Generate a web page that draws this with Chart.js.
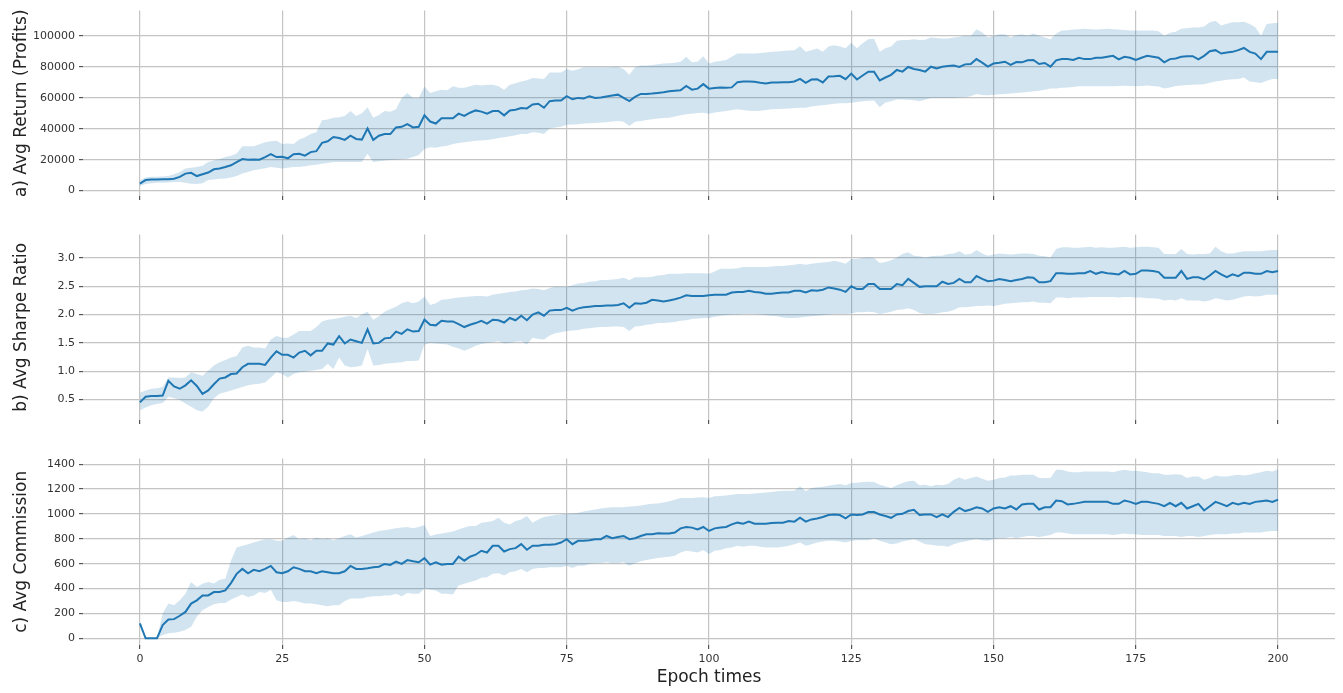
<!DOCTYPE html>
<html>
<head>
<meta charset="utf-8">
<script src="https://cdn.jsdelivr.net/npm/chart.js@4"></script>
<style>
  body { margin: 0; background: #fff; }
  canvas { position: absolute; left: 0; }
</style>
</head>
<body>
<canvas id="painel-a" width="1343" height="224" style="top:0px"></canvas>
<canvas id="painel-b" width="1343" height="224" style="top:224px"></canvas>
<canvas id="painel-c" width="1343" height="245" style="top:448px"></canvas>
<script>
// Eixo x: épocas 0..200
const epocas = Array.from({ length: 201 }, (_, i) => i);
const ticksX = [0, 25, 50, 75, 100, 125, 150, 175, 200];

// a) Avg Return (Profits): média, limite superior e inferior da faixa
const retornoMedia = [
  4500, 6800, 7200, 7200, 7300, 7300, 7700, 8900, 11000, 11500,
  9400, 10600, 11700, 13800, 14300, 15300, 16400, 18500, 20400, 20000,
  20200, 20000, 21700, 23600, 21700, 21900, 20900, 23600, 23800, 22600,
  24900, 25500, 30900, 31900, 34700, 34000, 32800, 35500, 33400, 33000,
  40200, 32800, 35500, 36600, 36600, 40900, 41300, 43000, 40900, 41300,
  48700, 44700, 43400, 46800, 46800, 46800, 49800, 48300, 50400, 51900,
  51100, 49800, 51500, 51500, 48700, 51900, 52300, 53400, 53200, 55700,
  56200, 53600, 57900, 58300, 58300, 61100, 59100, 60000, 59600, 61100,
  60000, 60200, 60900, 61500, 62100, 60000, 57900, 60600, 62600, 62600,
  62800, 63200, 63600, 64300, 64700, 64900, 67700, 65300, 66000, 68900,
  66000, 66400, 66800, 66600, 66800, 70200, 70600, 70600, 70400, 69800,
  69400, 70000, 70000, 70200, 70200, 70600, 72300, 69800, 71900, 72100,
  70000, 73800, 74000, 74300, 72100, 75700, 71900, 74500, 77000, 77000,
  71300, 73200, 74900, 78100, 77000, 80000, 78700, 78100, 77000, 80200,
  79100, 80200, 80600, 80900, 80000, 81700, 81900, 85100, 82800, 80200,
  82300, 82800, 83400, 81300, 83200, 83000, 84300, 84500, 81900, 82600,
  80200, 84300, 85100, 85100, 84500, 86000, 85100, 85100, 86000, 86000,
  86600, 87200, 84900, 86600, 86000, 84500, 86000, 87200, 86600, 86000,
  83000, 85100, 85500, 86600, 87000, 87000, 84900, 87200, 90200, 90900,
  88700, 89400, 89800, 90900, 92300, 89800, 88700, 85100, 89800, 89800, 89800
];
const retornoAlto = [
  6500, 8500, 9000, 9000, 9200, 9500, 10600, 12000, 14300, 14800,
  15300, 16000, 18500, 19500, 20500, 21700, 22500, 24000, 28700, 28700,
  28700, 30000, 31300, 32000, 32300, 30200, 30500, 30200, 33000, 34500,
  36600, 37700, 45500, 46000, 47200, 47500, 48300, 51500, 48300, 50000,
  54000, 47200, 49000, 51500, 51000, 52600, 60000, 63200, 60000, 60000,
  67400, 63200, 64300, 65300, 65000, 67500, 66500, 66500, 67500, 68500,
  68000, 68500, 68500, 67500, 65300, 68500, 69500, 70600, 71500, 72800,
  72500, 72300, 76400, 76400, 76400, 78700, 77600, 78500, 79800, 79800,
  79800, 79800, 79800, 80000, 80200, 78700, 74900, 79800, 80900, 80900,
  81300, 81800, 82300, 82500, 82800, 83400, 86600, 83000, 83400, 87000,
  82300, 83400, 83800, 84500, 86600, 88700, 88700, 88700, 88700, 89100,
  89400, 89800, 90000, 90400, 90600, 90900, 93400, 89800, 90900, 92000,
  89800, 93200, 94000, 93200, 92100, 95700, 92100, 95300, 97900, 98300,
  89800, 92100, 93200, 97000, 97500, 97500, 97900, 97500, 97700, 99100,
  98800, 98500, 98500, 99100, 99500, 100200, 100000, 104500, 102500, 99100,
  100200, 101200, 101200, 99100, 100600, 101200, 100200, 101700, 100200, 99100,
  97900, 101700, 103600, 103800, 104200, 104400, 104700, 104400, 104200, 104400,
  104700, 104400, 104200, 104000, 103600, 103600, 103600, 103600, 103600, 103200,
  100200, 102100, 102800, 104700, 105100, 105500, 105500, 106200, 108900, 110000,
  106800, 108000, 108900, 108900, 109300, 107800, 105700, 100200, 107800, 108300, 108700
];
const retornoBaixo = [
  3000, 4200, 4700, 5100, 5100, 5200, 5500, 5500, 5000, 4500,
  4300, 4800, 6800, 7200, 7600, 7900, 8500, 9500, 11000, 12000,
  13200, 13800, 14500, 15300, 14800, 14300, 14800, 15300, 15300, 15800,
  16400, 16800, 17400, 17800, 18500, 18500, 18500, 18500, 18500, 18500,
  23800, 18500, 19000, 19500, 19800, 20000, 20300, 20600, 21700, 23000,
  27000, 28100, 27800, 28500, 29100, 30200, 30800, 31300, 31800, 32300,
  32500, 32800, 33300, 34000, 34600, 35100, 35800, 36600, 36600, 37700,
  37400, 36600, 40200, 40800, 41300, 42600, 42800, 43000, 43400, 43600,
  43800, 44000, 44300, 44700, 45100, 44500, 41800, 44500, 45100, 45700,
  46200, 46600, 47000, 47200, 48000, 48700, 49400, 49800, 50200, 50400,
  49800, 50600, 51100, 51500, 52100, 52600, 52100, 51700, 51500, 51700,
  52100, 52600, 52800, 53000, 53200, 53400, 53600, 53600, 54400, 54900,
  55300, 55700, 56200, 56600, 56600, 56800, 57400, 57900, 58100, 58300,
  54000, 57000, 57900, 59000, 59000, 58800, 58500, 57900, 58800, 60000,
  60000, 60000, 60000, 60000, 60200, 60400, 61000, 62600, 61800, 61700,
  62100, 62400, 62600, 62800, 63200, 63500, 63800, 64300, 64700, 65300,
  66000, 66000, 66600, 66800, 67100, 67500, 67500, 67500, 67500, 67500,
  67500, 67500, 67700, 67900, 67700, 67500, 67700, 68100, 67700, 67300,
  66000, 66800, 67700, 68100, 68300, 68500, 68700, 68900, 69800, 70600,
  71100, 71700, 72100, 72300, 73200, 70600, 70200, 69600, 71100, 72300, 72300
];
const ticksRetorno = [0, 20000, 40000, 60000, 80000, 100000];

// b) Avg Sharpe Ratio
const sharpeMedia = [
  0.45, 0.55, 0.56, 0.56, 0.57, 0.83, 0.73, 0.69, 0.75, 0.84,
  0.74, 0.60, 0.66, 0.77, 0.87, 0.89, 0.95, 0.96, 1.07, 1.13,
  1.13, 1.13, 1.11, 1.24, 1.35, 1.29, 1.29, 1.24, 1.33, 1.36,
  1.28, 1.36, 1.36, 1.49, 1.47, 1.62, 1.49, 1.56, 1.53, 1.50,
  1.74, 1.49, 1.50, 1.58, 1.59, 1.70, 1.66, 1.74, 1.70, 1.71,
  1.91, 1.82, 1.81, 1.89, 1.88, 1.88, 1.83, 1.78, 1.82, 1.85,
  1.89, 1.84, 1.91, 1.90, 1.86, 1.94, 1.90, 1.98, 1.90, 2.00,
  2.04, 1.98, 2.07, 2.08, 2.08, 2.12, 2.07, 2.11, 2.13, 2.14,
  2.15, 2.15, 2.16, 2.16, 2.17, 2.20, 2.12, 2.20, 2.19, 2.21,
  2.26, 2.25, 2.23, 2.25, 2.27, 2.30, 2.34, 2.33, 2.33, 2.33,
  2.34, 2.35, 2.35, 2.35, 2.39, 2.40, 2.40, 2.42, 2.40, 2.39,
  2.37, 2.37, 2.38, 2.39, 2.39, 2.42, 2.42, 2.39, 2.43, 2.42,
  2.44, 2.48, 2.46, 2.44, 2.40, 2.50, 2.45, 2.45, 2.54, 2.54,
  2.45, 2.45, 2.45, 2.54, 2.52, 2.63, 2.56, 2.49, 2.50, 2.50,
  2.50, 2.58, 2.54, 2.56, 2.63, 2.57, 2.57, 2.68, 2.63, 2.59,
  2.60, 2.63, 2.61, 2.59, 2.61, 2.63, 2.66, 2.65, 2.57, 2.57,
  2.59, 2.73, 2.73, 2.72, 2.72, 2.73, 2.73, 2.77, 2.72, 2.75,
  2.73, 2.72, 2.71, 2.77, 2.71, 2.72, 2.78, 2.78, 2.77, 2.75,
  2.65, 2.65, 2.65, 2.77, 2.63, 2.66, 2.66, 2.62, 2.69, 2.77,
  2.71, 2.66, 2.71, 2.68, 2.74, 2.74, 2.72, 2.72, 2.77, 2.75, 2.77
];
const sharpeAlto = [
  0.62, 0.66, 0.69, 0.70, 0.72, 0.89, 0.89, 0.88, 0.89, 0.98,
  0.95, 0.92, 1.01, 1.10, 1.16, 1.20, 1.24, 1.27, 1.42, 1.45,
  1.42, 1.42, 1.40, 1.56, 1.62, 1.59, 1.59, 1.65, 1.71, 1.71,
  1.71, 1.78, 1.88, 1.91, 1.92, 1.94, 1.96, 1.98, 1.94, 2.00,
  2.05, 1.91, 1.97, 2.05, 2.10, 2.14, 2.20, 2.23, 2.20, 2.23,
  2.32, 2.17, 2.20, 2.26, 2.27, 2.29, 2.30, 2.31, 2.32, 2.33,
  2.33, 2.32, 2.35, 2.37, 2.38, 2.40, 2.41, 2.43, 2.44, 2.46,
  2.45, 2.43, 2.47, 2.49, 2.49, 2.49, 2.52, 2.55, 2.56, 2.58,
  2.59, 2.61, 2.61, 2.62, 2.63, 2.65, 2.61, 2.66, 2.66, 2.66,
  2.67, 2.69, 2.70, 2.72, 2.72, 2.72, 2.73, 2.73, 2.73, 2.73,
  2.72, 2.76, 2.81, 2.81, 2.81, 2.82, 2.84, 2.84, 2.84, 2.84,
  2.84, 2.85, 2.86, 2.86, 2.87, 2.88, 2.90, 2.88, 2.90, 2.91,
  2.92, 2.93, 2.95, 2.93, 2.90, 2.98, 2.98, 3.00, 3.01, 3.00,
  2.91, 2.93, 2.96, 3.01, 3.07, 3.10, 3.04, 3.03, 3.01, 3.03,
  3.04, 3.04, 3.07, 3.08, 3.12, 3.06, 3.07, 3.14, 3.08, 3.04,
  3.06, 3.08, 3.07, 3.06, 3.07, 3.08, 3.08, 3.07, 3.04, 3.03,
  3.01, 3.16, 3.19, 3.19, 3.18, 3.18, 3.19, 3.20, 3.18, 3.19,
  3.18, 3.18, 3.19, 3.20, 3.18, 3.19, 3.20, 3.20, 3.19, 3.18,
  3.07, 3.07, 3.07, 3.16, 3.07, 3.06, 3.07, 3.07, 3.08, 3.20,
  3.12, 3.08, 3.08, 3.10, 3.12, 3.12, 3.12, 3.12, 3.13, 3.14, 3.14
];
const sharpeBaixo = [
  0.31, 0.36, 0.40, 0.42, 0.44, 0.55, 0.52, 0.49, 0.43, 0.37,
  0.31, 0.29, 0.37, 0.52, 0.60, 0.63, 0.66, 0.69, 0.72, 0.75,
  0.77, 0.78, 0.80, 0.89, 0.98, 0.95, 0.89, 0.95, 0.98, 0.99,
  1.01, 1.02, 1.04, 1.13, 1.04, 1.24, 1.10, 1.07, 1.08, 1.10,
  1.39, 1.10, 1.11, 1.13, 1.14, 1.15, 1.16, 1.18, 1.18, 1.19,
  1.47, 1.50, 1.49, 1.48, 1.47, 1.43, 1.40, 1.36, 1.40, 1.45,
  1.48, 1.50, 1.51, 1.53, 1.49, 1.50, 1.52, 1.53, 1.47, 1.59,
  1.57, 1.56, 1.63, 1.67, 1.69, 1.71, 1.72, 1.73, 1.75, 1.76,
  1.77, 1.78, 1.78, 1.79, 1.79, 1.78, 1.71, 1.79, 1.80, 1.82,
  1.83, 1.85, 1.85, 1.86, 1.87, 1.89, 1.90, 1.92, 1.93, 1.94,
  1.94, 1.96, 1.98, 1.99, 2.00, 2.00, 2.01, 2.01, 2.01, 2.00,
  1.99, 1.98, 1.97, 1.95, 1.94, 1.94, 1.95, 1.96, 1.97, 1.98,
  1.99, 2.00, 2.01, 2.01, 2.01, 2.02, 2.04, 2.04, 2.05, 2.04,
  2.01, 2.03, 2.05, 2.08, 2.09, 2.11, 2.08, 2.03, 2.01, 2.01,
  2.02, 2.04, 2.05, 2.08, 2.13, 2.13, 2.14, 2.15, 2.15, 2.16,
  2.15, 2.17, 2.19, 2.20, 2.21, 2.22, 2.22, 2.23, 2.21, 2.21,
  2.20, 2.30, 2.30, 2.29, 2.30, 2.30, 2.30, 2.31, 2.31, 2.31,
  2.31, 2.31, 2.30, 2.31, 2.31, 2.30, 2.30, 2.29, 2.29, 2.28,
  2.25, 2.26, 2.25, 2.29, 2.25, 2.25, 2.25, 2.23, 2.25, 2.29,
  2.27, 2.25, 2.26, 2.29, 2.32, 2.33, 2.32, 2.33, 2.35, 2.35, 2.35
];
const ticksSharpe = [0.5, 1.0, 1.5, 2.0, 2.5, 3.0];

// c) Avg Commission
const comissaoMedia = [
  120, 0, 0, 0, 106, 151, 154, 181, 212, 279,
  305, 345, 345, 372, 372, 385, 444, 518, 558, 523,
  550, 539, 558, 582, 531, 523, 539, 571, 558, 539,
  539, 523, 539, 531, 523, 523, 539, 582, 558, 558,
  563, 571, 576, 598, 590, 616, 598, 629, 619, 611,
  645, 592, 611, 592, 598, 598, 656, 624, 656, 672,
  704, 690, 744, 744, 698, 717, 725, 757, 712, 744,
  744, 752, 752, 757, 770, 797, 757, 784, 784, 789,
  797, 797, 823, 805, 815, 823, 797, 805, 823, 837,
  837, 845, 842, 842, 850, 884, 895, 890, 876, 895,
  863, 884, 890, 895, 916, 930, 922, 938, 922, 922,
  922, 927, 930, 930, 943, 938, 969, 938, 956, 964,
  975, 991, 996, 991, 964, 996, 991, 996, 1015, 1015,
  996, 983, 969, 996, 1001, 1023, 1033, 991, 996, 996,
  975, 996, 975, 1017, 1049, 1023, 1036, 1054, 1044, 1017,
  1044, 1054, 1044, 1062, 1036, 1076, 1081, 1081, 1036, 1054,
  1054, 1108, 1102, 1076, 1081, 1089, 1097, 1097, 1097, 1097,
  1097, 1081, 1081, 1108, 1097, 1081, 1097, 1097, 1089, 1081,
  1062, 1089, 1062, 1089, 1044, 1062, 1081, 1028, 1062, 1097,
  1081, 1062, 1089, 1076, 1089, 1081, 1097, 1102, 1108, 1097, 1115
];
const comissaoAlto = [
  120, 0, 0, 0, 200, 279, 266, 305, 358, 452,
  412, 438, 452, 440, 470, 478, 624, 730, 744, 757,
  770, 784, 797, 797, 784, 784, 810, 831, 797, 805,
  789, 810, 797, 805, 789, 805, 823, 837, 810, 823,
  837, 850, 863, 868, 876, 884, 890, 895, 884, 895,
  911, 823, 835, 842, 850, 858, 875, 890, 903, 903,
  930, 935, 943, 969, 930, 916, 943, 956, 983, 930,
  956, 975, 983, 991, 996, 1001, 1004, 1009, 1020, 1028,
  1036, 1044, 1049, 1054, 1054, 1054, 1060, 1062, 1068, 1076,
  1081, 1084, 1092, 1102, 1115, 1129, 1129, 1129, 1132, 1135,
  1129, 1142, 1145, 1148, 1155, 1161, 1161, 1161, 1164, 1169,
  1172, 1177, 1182, 1187, 1187, 1187, 1222, 1182, 1208, 1214,
  1219, 1227, 1235, 1240, 1230, 1248, 1250, 1256, 1258, 1256,
  1235, 1222, 1208, 1230, 1248, 1262, 1267, 1230, 1235, 1222,
  1235, 1230, 1240, 1275, 1293, 1275, 1288, 1301, 1283, 1267,
  1275, 1288, 1293, 1309, 1309, 1315, 1315, 1315, 1288, 1288,
  1288, 1355, 1355, 1341, 1336, 1336, 1341, 1341, 1341, 1341,
  1341, 1336, 1347, 1355, 1347, 1347, 1341, 1336, 1328, 1328,
  1315, 1315, 1320, 1315, 1288, 1301, 1301, 1275, 1288, 1309,
  1301, 1301, 1309, 1315, 1309, 1315, 1328, 1336, 1347, 1341, 1360
];
const comissaoBaixo = [
  120, 0, 0, 0, 27, 40, 45, 53, 66, 93,
  173, 226, 252, 274, 284, 284, 311, 332, 353, 332,
  345, 372, 364, 390, 305, 292, 292, 300, 292, 279,
  279, 274, 266, 258, 266, 266, 300, 319, 319, 319,
  332, 338, 338, 345, 345, 359, 338, 364, 359, 359,
  398, 390, 385, 359, 359, 353, 425, 438, 452, 465,
  486, 491, 518, 523, 505, 531, 539, 557, 531, 557,
  565, 565, 571, 571, 571, 584, 565, 584, 584, 598,
  603, 603, 611, 603, 603, 611, 584, 603, 619, 629,
  637, 645, 651, 656, 664, 690, 704, 698, 690, 709,
  677, 704, 709, 725, 730, 744, 736, 744, 744, 736,
  730, 730, 730, 736, 744, 757, 770, 744, 757, 770,
  778, 784, 784, 778, 770, 784, 789, 789, 789, 805,
  784, 770, 757, 762, 778, 789, 797, 778, 757, 752,
  744, 744, 736, 757, 770, 778, 789, 797, 789, 784,
  797, 805, 805, 815, 805, 815, 823, 823, 815, 823,
  831, 850, 850, 842, 837, 837, 837, 837, 837, 837,
  837, 831, 837, 842, 837, 837, 831, 831, 831, 831,
  823, 823, 823, 815, 823, 823, 815, 823, 831, 837,
  837, 837, 842, 842, 850, 850, 850, 850, 858, 863, 863
];
const ticksComissao = [0, 200, 400, 600, 800, 1000, 1200, 1400];

const AZUL = '#1f77b4';
const FAIXA = 'rgba(31, 119, 180, 0.2)';
const GRADE = '#c4c4c4';
const FONTE = 'DejaVu Sans';

// Função para gerar um painel (linha média + faixa sombreada)
function gerarPainel(id, media, alto, baixo, cfg) {
    const ctx = document.getElementById(id).getContext('2d');

    new Chart(ctx, {
        type: 'line',
        data: {
            labels: epocas,
            datasets: [
                {
                    data: media,
                    borderColor: AZUL,
                    borderWidth: 2,
                    pointRadius: 0,
                    fill: false,
                },
                {
                    data: alto,
                    borderWidth: 0,
                    borderColor: 'rgba(0,0,0,0)',
                    backgroundColor: FAIXA,
                    pointRadius: 0,
                    fill: '+1',
                },
                {
                    data: baixo,
                    borderWidth: 0,
                    borderColor: 'rgba(0,0,0,0)',
                    pointRadius: 0,
                    fill: false,
                }
            ]
        },
        options: {
            responsive: false,
            animation: false,
            events: [],
            layout: { padding: { top: cfg.topo, right: 8, left: 0, bottom: 0 } },
            scales: {
                x: {
                    type: 'linear',
                    min: -10,
                    max: 210,
                    afterBuildTicks: s => { s.ticks = ticksX.map(v => ({ value: v })); },
                    afterFit: s => { s.height = cfg.alturaX; },
                    border: { display: false },
                    grid: { color: GRADE, lineWidth: 1.2, tickLength: 4, tickColor: '#555' },
                    ticks: {
                        display: cfg.mostrarX,
                        color: '#333',
                        padding: 4,
                        maxRotation: 0,
                        autoSkip: false,
                        font: { family: FONTE, size: 11 },
                        callback: v => String(v),
                    },
                    title: {
                        display: cfg.mostrarX,
                        text: 'Epoch times',
                        color: '#222',
                        font: { family: FONTE, size: 17 },
                        padding: { top: 0, bottom: 5 },
                    }
                },
                y: {
                    min: cfg.yMin,
                    max: cfg.yMax,
                    afterBuildTicks: s => { s.ticks = cfg.ticksY.map(v => ({ value: v })); },
                    afterFit: s => { s.width = 83; },
                    border: { display: false },
                    grid: { color: GRADE, lineWidth: 1.2, tickLength: 4, tickColor: '#555' },
                    ticks: {
                        color: '#333',
                        padding: 4,
                        font: { family: FONTE, size: 11 },
                        callback: cfg.formato,
                    },
                    title: {
                        display: true,
                        text: cfg.titulo,
                        color: '#222',
                        font: { family: FONTE, size: 17 },
                        padding: { top: 11, bottom: 0 },
                    }
                }
            },
            plugins: {
                legend: { display: false },
                tooltip: { enabled: false },
            },
        }
    });
}

window.onload = function () {
    Chart.defaults.font.family = FONTE;

    gerarPainel('painel-a', retornoMedia, retornoAlto, retornoBaixo, {
        titulo: 'a) Avg Return (Profits)',
        yMin: -3500, yMax: 116500, ticksY: ticksRetorno,
        formato: v => String(v),
        topo: 8, alturaX: 28, mostrarX: false,
    });

    gerarPainel('painel-b', sharpeMedia, sharpeAlto, sharpeBaixo, {
        titulo: 'b) Avg Sharpe Ratio',
        yMin: 0.138, yMax: 3.413, ticksY: ticksSharpe,
        formato: v => Number(v).toFixed(1),
        topo: 8, alturaX: 28, mostrarX: false,
    });

    gerarPainel('painel-c', comissaoMedia, comissaoAlto, comissaoBaixo, {
        titulo: 'c) Avg Commission',
        yMin: -54, yMax: 1445, ticksY: ticksComissao,
        formato: v => String(v),
        topo: 9, alturaX: 48, mostrarX: true,
    });
};
</script>
</body>
</html>
